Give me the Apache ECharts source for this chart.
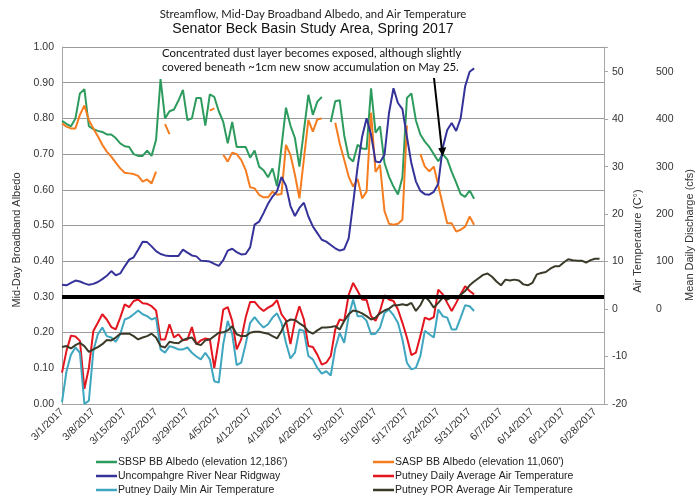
<!DOCTYPE html>
<html>
<head>
<meta charset="utf-8">
<script src="https://cdn.jsdelivr.net/npm/echarts@6/dist/echarts.min.js"></script>
<style>html,body{margin:0;padding:0;background:#fff}#c{width:696px;height:499px}</style>
</head>
<body>
<div id="c"></div>
<script>
// Categories: daily dates 3/1/2017 .. 6/30/2017
var dates = [];
(function(){ var m=[3,4,5,6], n=[31,30,31,30]; for (var i=0;i<4;i++) for (var d=1; d<=n[i]; d++) dates.push(m[i]+'/'+d+'/2017'); })();

var sbspAlbedo = [0.793,0.785,0.778,0.80,0.87,0.882,0.778,0.77,0.765,0.762,0.755,0.755,0.745,0.73,0.722,0.72,0.70,0.695,0.695,0.71,0.695,0.74,0.91,0.80,0.82,0.825,0.85,0.88,0.795,0.80,0.857,0.857,0.78,0.867,0.86,0.82,0.79,0.73,0.79,0.72,0.72,0.72,0.69,0.71,0.665,0.655,0.635,0.66,0.61,0.72,0.83,0.78,0.745,0.665,0.765,0.866,0.81,0.847,0.86,null,0.79,0.848,0.851,0.753,0.691,0.679,0.726,0.716,0.714,0.884,0.76,0.778,0.675,0.637,0.609,0.587,0.635,0.857,0.87,0.795,0.755,0.735,0.72,0.70,0.68,0.70,0.685,0.65,0.62,0.588,0.58,0.598,0.575];

var saspAlbedo = [0.786,0.777,0.772,0.772,0.81,0.836,0.795,0.772,0.75,0.726,0.707,0.693,0.676,0.66,0.648,0.646,0.644,0.639,0.623,0.629,0.618,0.651,null,0.784,0.756,null,null,null,null,null,null,null,null,0.822,0.828,null,0.698,0.679,0.704,0.70,0.684,0.656,0.607,0.604,0.586,0.579,0.579,0.595,0.586,0.588,0.726,0.698,0.642,0.576,0.686,0.796,0.763,0.797,0.80,null,null,0.788,0.73,0.684,0.637,0.609,0.63,0.576,0.595,0.816,0.65,0.67,0.54,0.505,0.502,0.505,0.516,0.78,null,null,0.70,0.665,0.652,0.665,0.613,0.558,0.506,0.506,0.483,0.488,0.497,0.525,0.502];

var riverDischarge = [51,50,55,60,58,54,51,53,57,63,70,80,71,75,90,104,109,125,142,141,132,122,116,113,112,112,112,125,119,113,111,102,101,100,95,91,103,123,127,120,115,116,130,178,184,202,222,237,248,278,260,217,196,213,224,195,174,160,146,142,135,128,123,126,149,223,300,363,402,367,311,309,325,413,465,434,421,363,307,269,249,242,241,247,264,340,377,392,375,402,469,500,507];

var putneyAvg = [-13.4,-8.8,-5.6,-5.8,-6.7,-16.8,-12.4,-4.6,-2.9,-1.1,-2.2,-3.8,-4.3,-1.8,1.0,0.4,1.7,2.0,1.2,1.1,0.6,-0.3,-6.4,-6.4,-3.2,-6.0,-5.3,-6.6,-6.4,-3.8,-7.4,-6.6,-6.2,-6.4,-12.4,-6.6,-0.1,0.4,-2.5,-8.5,-6.4,-1.8,1.5,1.5,0.4,-0.4,0.3,0.8,1.9,-1.1,-2.4,-7.4,-2.5,0.6,-2.2,-7.8,-8.0,-9.6,-11.7,-11.3,-9.9,-4.3,-2.2,-2.5,3.0,5.5,3.8,2.0,1.9,-1.5,-2.5,-0.4,2.9,2.0,1.7,-0.1,-2.9,-6.0,-9.7,-9.2,-5.7,-1.8,-2.2,-1.7,4.1,3.1,1.3,-0.4,1.3,3.1,4.8,3.8,3.1];

var putneyMin = [-19.6,-13.1,-9.6,-8.1,-9.2,-20,-19.3,-8.8,-5.3,-3.9,-5.7,-6.0,-6.9,-5.3,-2.2,-1.8,-1.1,-0.3,-1.1,-1.5,-2.2,-1.8,-8.5,-9.2,-7.8,-8.1,-8.5,-8.5,-8.1,-9.2,-10.0,-10.6,-9.2,-10.6,-15.2,-15.5,-7.4,-2.5,-5.3,-11.8,-11.3,-7.4,-2.9,-1.7,-2.9,-3.9,-3.2,-1.8,-0.9,-2.9,-7.1,-10.4,-9.2,-4.3,-4.6,-9.9,-10.6,-12.4,-13.6,-13.1,-14.0,-8.3,-5.0,-7.1,-1.5,2.0,-1.5,-1.5,-2.5,-5.3,-5.2,-3.9,-0.8,-0.1,-1.3,-2.9,-6.4,-11.3,-12.7,-12.4,-9.9,-4.6,-5.3,-6.0,-0.1,-1.5,-1.8,-4.3,-4.3,-1.8,0.8,0.6,-0.4];

var putneyPOR = [-8.0,-7.8,-8.3,-7.6,-7.1,-7.8,-9.0,-8.5,-8.0,-7.4,-6.5,-6.6,-6.0,-5.2,-5.2,-5.2,-5.7,-6.4,-6.0,-5.7,-5.2,-6.0,-7.8,-8.1,-6.9,-7.1,-7.2,-6.5,-6.2,-6.0,-7.3,-7.6,-6.6,-6.4,-5.7,-5.0,-4.9,-4.5,-3.6,-5.3,-5.7,-5.7,-5.0,-4.8,-4.8,-5.0,-5.2,-5.7,-6.2,-4.6,-2.7,-2.2,-2.3,-3.0,-3.6,-4.7,-5.2,-4.5,-3.9,-3.9,-3.8,-3.6,-4.3,-2.5,-1.1,-0.3,-0.5,-0.9,-1.5,-2.2,-1.8,-0.9,-0.3,0.1,0.8,0.8,1.0,0.8,1.3,-0.4,0.8,2.7,1.7,0.3,1.3,2.4,2.0,2.5,2.2,3.0,3.8,5.0,5.8,6.5,7.2,7.5,6.8,5.8,5.0,6.2,6.0,6.2,6.0,5.2,5.0,5.5,7.3,7.6,7.8,8.5,9.0,9.0,9.8,10.5,10.3,10.2,10.2,9.8,10.3,10.6,10.6];

var seriesNames = ["SBSP BB Albedo (elevation 12,186')", "SASP BB Albedo (elevation 11,060')", "Uncompahgre River Near Ridgway", "Putney Daily Average Air Temperature", "Putney Daily Min Air Temperature", "Putney POR Average Air Temperature"];
var seriesColors = ['#2E9B5E', '#F57C1F', '#35329A', '#E3151E', '#3FA6C0', '#3B3A28'];

var albedoRange = [0, 1, 0.1];
var tempRange = [-20, 55.2, 10];
var dischargeRange = [-200, 552, 100];
var thresholdAlbedo = 0.30;

var AR = 'Arial, "Liberation Sans", sans-serif';
var CAL = 'Lato, "Open Sans", sans-serif';
var chart = echarts.init(document.getElementById('c'), null, {renderer: 'canvas'});

function line(i, yi, data, z) {
  return {
    name: seriesNames[i], type: 'line', yAxisIndex: yi, data: data,
    showSymbol: false, symbol: 'none', connectNulls: false, z: z,
    lineStyle: {color: seriesColors[i], width: 2}, itemStyle: {color: seriesColors[i]},
    emphasis: {disabled: true}
  };
}

var s0 = line(0, 0, sbspAlbedo, 3);
s0.markLine = {
  silent: true, symbol: ['none', 'none'], label: {show: false},
  lineStyle: {color: '#000', width: 4, type: 'solid'},
  data: [{yAxis: thresholdAlbedo}]
};

var legendText = {fontFamily: AR, fontSize: 10.5, color: '#222', lineHeight: 14, padding: [0,0,0,-4]};

var option = {
  animation: false,
  grid: {left: 62, right: 92, top: 47, bottom: 95, containLabel: false, outerBoundsMode: 'none'},
  xAxis: {
    type: 'category', data: dates, boundaryGap: false,
    axisLine: {lineStyle: {color: '#A6A6A6'}},
    axisTick: {show: false},
    axisLabel: {interval: 6, rotate: 45, fontFamily: AR, fontSize: 10.5, color: '#333', margin: 6}
  },
  yAxis: [
    {
      type: 'value', min: albedoRange[0], max: albedoRange[1], interval: albedoRange[2],
      axisLine: {show: true, lineStyle: {color: '#A6A6A6'}},
      axisTick: {show: false},
      axisLabel: {fontFamily: AR, fontSize: 10.5, color: '#333', margin: 8, formatter: function(v){return v.toFixed(2);}},
      splitLine: {show: true, lineStyle: {color: '#9A9A9A', width: 1}}
    },
    {
      type: 'value', position: 'right', min: tempRange[0], max: tempRange[1], interval: tempRange[2],
      axisLine: {show: true, lineStyle: {color: '#A6A6A6'}},
      axisTick: {show: true, inside: false, length: 4, lineStyle: {color: '#A6A6A6'}},
      axisLabel: {fontFamily: AR, fontSize: 10.5, color: '#333', margin: 8,
        formatter: function(v){ return (Math.abs(v % 10) < 1e-6 && v <= 50) ? String(v) : ''; }},
      splitLine: {show: false}
    },
    {
      type: 'value', position: 'right', offset: 44, min: dischargeRange[0], max: dischargeRange[1], interval: dischargeRange[2],
      axisLine: {show: false}, axisTick: {show: false},
      axisLabel: {fontFamily: AR, fontSize: 10.5, color: '#333', margin: 8,
        formatter: function(v){ return (Math.abs(v % 100) < 1e-6 && v >= 0 && v <= 500) ? String(v) : ''; }},
      splitLine: {show: false}
    }
  ],
  legend: [
    {
      orient: 'vertical', left: 96, top: 455, itemGap: 0, padding: 0,
      icon: 'rect', itemWidth: 21, itemHeight: 2.5, selectedMode: false,
      textStyle: legendText,
      data: [seriesNames[0], seriesNames[2], seriesNames[4]]
    },
    {
      orient: 'vertical', left: 373, top: 455, itemGap: 0, padding: 0,
      icon: 'rect', itemWidth: 21, itemHeight: 2.5, selectedMode: false,
      textStyle: legendText,
      data: [seriesNames[1], seriesNames[3], seriesNames[5]]
    }
  ],
  series: [
    s0,
    line(1, 0, saspAlbedo, 3),
    line(2, 2, riverDischarge, 3),
    line(3, 1, putneyAvg, 3),
    line(4, 1, putneyMin, 3),
    line(5, 1, putneyPOR, 3)
  ],
  graphic: [
    {type: 'text', x: 313, y: 14, style: {text: 'Streamflow, Mid-Day Broadband Albedo, and Air Temperature', align: 'center', verticalAlign: 'middle', fontFamily: CAL, fontSize: 11.3, fill: '#222'}},
    {type: 'text', x: 313, y: 29, style: {text: 'Senator Beck Basin Study Area, Spring 2017', align: 'center', verticalAlign: 'middle', fontFamily: AR, fontSize: 14.1, fill: '#111'}},
    {type: 'text', x: 162, y: 53, style: {text: 'Concentrated dust layer becomes exposed, although slightly', align: 'left', verticalAlign: 'middle', fontFamily: CAL, fontSize: 11.4, fill: '#111'}},
    {type: 'text', x: 162, y: 67.5, style: {text: 'covered beneath ~1cm new snow accumulation on May 25.', align: 'left', verticalAlign: 'middle', fontFamily: CAL, fontSize: 11.4, fill: '#111'}},
    {type: 'text', x: 17, y: 240, rotation: Math.PI / 2, style: {text: 'Mid-Day Broadband Albedo', align: 'center', verticalAlign: 'middle', fontFamily: AR, fontSize: 11, fill: '#333'}},
    {type: 'text', x: 637.5, y: 241, rotation: Math.PI / 2, style: {text: 'Air Temperature (C°)', align: 'center', verticalAlign: 'middle', fontFamily: AR, fontSize: 11.3, fill: '#333'}},
    {type: 'text', x: 690, y: 235, rotation: Math.PI / 2, style: {text: 'Mean Daily Discharge (cfs)', align: 'center', verticalAlign: 'middle', fontFamily: AR, fontSize: 11, fill: '#333'}},
    {type: 'line', shape: {x1: 434, y1: 78, x2: 441.8, y2: 149}, style: {stroke: '#000', lineWidth: 2}, z: 100},
    {type: 'polygon', shape: {points: [[442.7, 156.5], [446.2, 147.3], [438.2, 148.2]]}, style: {fill: '#000'}, z: 100}
  ]
};
chart.setOption(option);
</script>
</body>
</html>
